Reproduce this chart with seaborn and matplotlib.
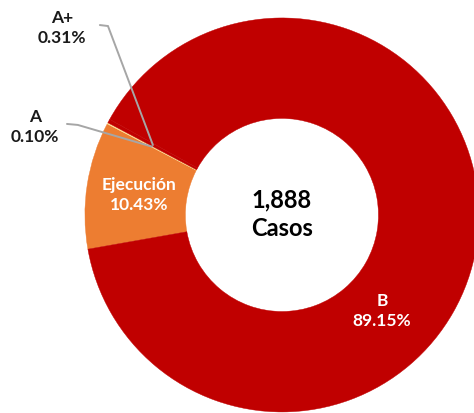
import numpy as np
import matplotlib
matplotlib.use("Agg")
import matplotlib.pyplot as plt
import seaborn as sns

# Case distribution by category (percent of total)
categories = ["Ejecución", "A", "A+", "B"]
shares = [10.43, 0.10, 0.31, 89.15]
colors = ["#ED7D31", "#FFE699", "#C00000", "#C00000"]
total_cases = "1,888"
center_label = "Casos"

sns.set_theme(style="white")
plt.rcParams["font.family"] = ["Lato", "DejaVu Sans"]

fig = plt.figure(figsize=(4.74, 4.14), dpi=100)
ax = fig.add_axes([0, 0, 1, 1])

start = 190
wedges, _ = ax.pie(
    shares,
    colors=colors,
    startangle=start,
    counterclock=False,
    radius=1.0,
    wedgeprops=dict(width=0.51, linewidth=0.3),
)
# outline each wedge in its own fill colour so no seams show between slices
for w, c in zip(wedges, colors):
    w.set_edgecolor(c)

ax.set_xlim(-1.431, 0.975)
ax.set_ylim(-1.005, 1.096)
ax.axis("off")

mid_r = 1.0 - 0.51 / 2


def mid_point(w):
    ang = np.deg2rad((w.theta1 + w.theta2) / 2)
    return mid_r * np.cos(ang), mid_r * np.sin(ang)


fmt = lambda v: f"{v:.2f}%"

# Labels inside the large slices
for name, val, w, pos in [
    ("Ejecución", shares[0], wedges[0], (-0.726, 0.107)),
    ("B", shares[3], wedges[3], (0.508, -0.482)),
]:
    ax.text(*pos, f"{name}\n{fmt(val)}", ha="center", va="center",
            color="white", fontsize=12.5, fontweight="bold", linespacing=1.3)

# Callouts for the thin slices
callouts = {
    "A": ((-1.254, 0.452), [(-1.091, 0.462), (-1.036, 0.457)]),
    "A+": ((-1.117, 0.954), [(-0.924, 0.964), (-0.883, 0.959)]),
}
for name, val, w in zip(categories, shares, wedges):
    if name not in callouts:
        continue
    tpos, elbow = callouts[name]
    ax.text(*tpos, f"{name}\n{fmt(val)}", ha="center", va="center",
            color="#1a1a1a", fontsize=12.5, fontweight="bold", linespacing=1.3)
    ex, ey = mid_point(w)
    xs = [elbow[0][0], elbow[1][0], ex]
    ys = [elbow[0][1], elbow[1][1], ey]
    ax.plot(xs, ys, color="#A6A6A6", lw=1.4, solid_joinstyle="miter")

ax.text(0, 0.01, f"{total_cases}\n{center_label}", ha="center", va="center",
        color="black", fontsize=17, fontweight="bold", linespacing=1.3)

fig.savefig("out.png", dpi=100)
